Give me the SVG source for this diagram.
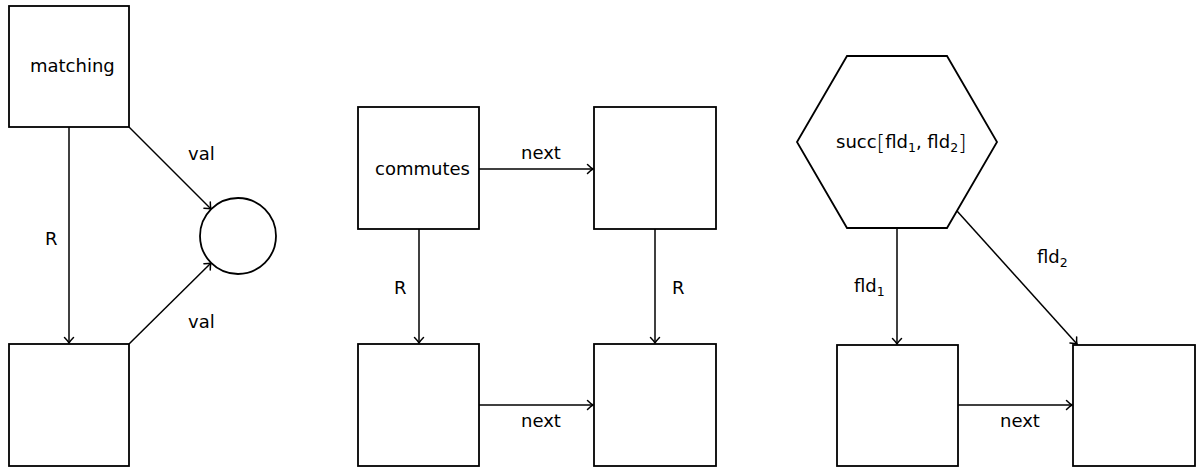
<svg xmlns="http://www.w3.org/2000/svg" width="1196" height="470" viewBox="0 0 1196 470">
<style>
.n{fill:#fff;stroke:#000;stroke-width:1.8}
.e{fill:none;stroke:#000;stroke-width:1.5;marker-end:url(#ah)}
text{font-family:"DejaVu Sans","Liberation Sans",sans-serif;font-size:18px;fill:#000}
.sub{font-size:12.5px}
</style>
<defs>
<marker id="ah" markerUnits="userSpaceOnUse" viewBox="-8 -6 10 12" refX="0" refY="0" markerWidth="10" markerHeight="12" orient="auto" overflow="visible">
<path d="M-5.5,-4.5 C-3,-2 -1,-0.5 0,0 C-1,0.5 -3,2 -5.5,4.5" fill="none" stroke="#000" stroke-width="1.5" stroke-linecap="round"/>
</marker>
</defs>
<g id="connectors">
<line class="e" x1="69" y1="127" x2="69" y2="343"/>
<line class="e" x1="129" y1="127" x2="211" y2="209"/>
<line class="e" x1="129" y1="344" x2="211" y2="263"/>
<line class="e" x1="479" y1="169" x2="593" y2="169"/>
<line class="e" x1="419" y1="229" x2="419" y2="343"/>
<line class="e" x1="655" y1="229" x2="655" y2="343"/>
<line class="e" x1="479" y1="405" x2="593" y2="405"/>
<line class="e" x1="897" y1="228" x2="897" y2="344"/>
<line class="e" x1="957" y1="211" x2="1077" y2="344"/>
<line class="e" x1="958" y1="405" x2="1072" y2="405"/>
<text x="45" y="245">R</text>
<text x="188" y="160">val</text>
<text x="188" y="328">val</text>
<text x="521" y="159">next</text>
<text x="394" y="294">R</text>
<text x="672" y="294">R</text>
<text x="521" y="427">next</text>
<text x="854" y="292">fld<tspan class="sub" dy="4">1</tspan></text>
<text x="1037" y="263">fld<tspan class="sub" dy="4">2</tspan></text>
<text x="1000" y="427">next</text>
</g>
<g id="matching"><rect class="n" x="9" y="6" width="120" height="121"/><text x="30" y="72">matching</text></g>
<g id="m-bottom"><rect class="n" x="9" y="344" width="120" height="122"/></g>
<g id="m-circle"><circle class="n" cx="238" cy="236" r="38"/></g>
<g id="commutes"><rect class="n" x="358" y="107" width="121" height="122"/><text x="375" y="175">commutes</text></g>
<g id="c-tr"><rect class="n" x="594" y="107" width="122" height="122"/></g>
<g id="c-bl"><rect class="n" x="358" y="344" width="121" height="122"/></g>
<g id="c-br"><rect class="n" x="594" y="344" width="122" height="122"/></g>
<g id="succ"><polygon class="n" points="797,142 847,56 947,56 997,142 947,228 847,228"/><text x="836" y="148">succ<tspan font-size="22" font-weight="200" dy="1.5">[</tspan><tspan dy="-1.5">fld</tspan><tspan class="sub" dy="4">1</tspan><tspan dy="-4">, fld</tspan><tspan class="sub" dy="4">2</tspan><tspan font-size="22" font-weight="200" dy="-2.5">]</tspan></text></g>
<g id="s-bl"><rect class="n" x="837" y="345" width="121" height="121"/></g>
<g id="s-br"><rect class="n" x="1073" y="345" width="122" height="121"/></g>
</svg>
